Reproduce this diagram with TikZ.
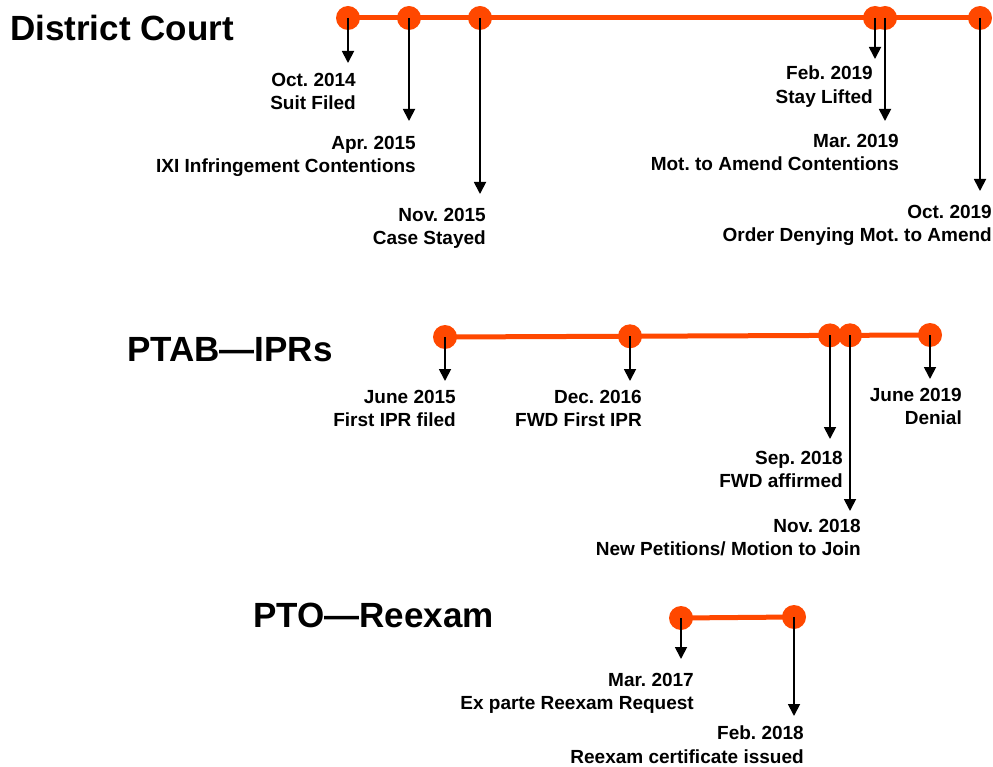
\documentclass[tikz,border=0pt]{standalone}
\usepackage{fontspec}
\setmainfont{Liberation Sans}
\usetikzlibrary{arrows.meta}
\definecolor{tlorange}{RGB}{255,72,0}
\tikzset{
  tline/.style={draw=tlorange, line width=5pt},
  dot/.style={circle, fill=tlorange, minimum size=24pt, inner sep=0pt},
  arr/.style={draw=black, line width=1.8pt, -{Triangle[width=12pt,length=12pt]}},
  lab/.style={anchor=north east, inner sep=0pt, align=right, font=\fontsize{19}{23.5}\selectfont\bfseries},
  ttl/.style={anchor=base west, inner sep=0pt, font=\fontsize{35}{40}\selectfont\bfseries}
}
\frenchspacing
\begin{document}
\frenchspacing
\begin{tikzpicture}[x=1pt,y=-1pt]
\useasboundingbox (0,0) rectangle (993,767);
% titles
\node[ttl] (t1) at (10,40.5) {District Court};
\node[ttl] (t2) at (127,361.5) {PTAB—IPRs};
\node[ttl] (t3) at (253,627) {PTO—Reexam};
% District Court
\draw[tline] (348,18) -- (980,18);
\node[dot] (a1) at (348,18) {};
\node[dot] (a2) at (409,18) {};
\node[dot] (a3) at (480,18) {};
\node[dot] (a4) at (875,18) {};
\node[dot] (a5) at (885,18) {};
\node[dot] (a6) at (980,18) {};
\coordinate (e1) at (348,63);
\coordinate (e2) at (409,121);
\coordinate (e3) at (480,194);
\coordinate (e4) at (875,59);
\coordinate (e5) at (885,121);
\coordinate (e6) at (980,191);
\foreach \i in {1,...,6} \draw[arr] (a\i.center) -- (e\i);
\node[lab] (l1) at (356,73) {Oct. 2014\\Suit Filed};
\node[lab] (l2) at (416,136) {Apr. 2015\\IXI Infringement Contentions};
\node[lab] (l3) at (486,208) {Nov. 2015\\Case Stayed};
\node[lab] (l4) at (873,66) {Feb. 2019\\Stay Lifted};
\node[lab] (l5) at (899,134) {Mar. 2019\\Mot. to Amend Contentions};
\node[lab] (l6) at (992,205) {Oct. 2019\\Order Denying Mot. to Amend};
% PTAB
\draw[tline] (445,337) -- (930,335);
\node[dot] (b1) at (445,337) {};
\node[dot] (b2) at (630,336.3) {};
\node[dot] (b3) at (830,335.4) {};
\node[dot] (b4) at (850,335.3) {};
\node[dot] (b5) at (930,335) {};
\coordinate (f1) at (445,381);
\coordinate (f2) at (630,381);
\coordinate (f3) at (830,439);
\coordinate (f4) at (850,511);
\coordinate (f5) at (930,379);
\foreach \i in {1,...,5} \draw[arr] (b\i.center) -- (f\i);
\node[lab] (m1) at (456,390) {June 2015\\First IPR filed};
\node[lab] (m2) at (642,390) {Dec. 2016\\FWD First IPR};
\node[lab] (m3) at (843,451) {Sep. 2018\\FWD affirmed};
\node[lab] (m4) at (861,519) {Nov. 2018\\New Petitions/ Motion to Join};
\node[lab] (m5) at (962,388) {June 2019\\Denial};
% PTO
\draw[tline] (681,618) -- (794,617);
\node[dot] (c1) at (681,618) {};
\node[dot] (c2) at (794,617) {};
\coordinate (g1) at (681,659);
\coordinate (g2) at (794,716);
\foreach \i in {1,2} \draw[arr] (c\i.center) -- (g\i);
\node[lab] (n1) at (694,673) {Mar. 2017\\Ex parte Reexam Request};
\node[lab] (n2) at (804,726) {Feb. 2018\\Reexam certificate issued};
\end{tikzpicture}
\end{document}
